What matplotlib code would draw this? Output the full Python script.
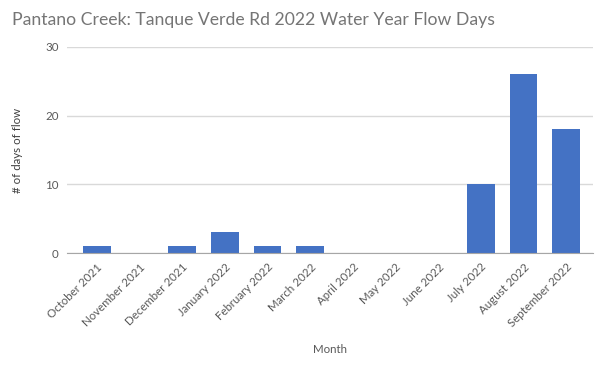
import matplotlib.pyplot as plt

months = ["October 2021", "November 2021", "December 2021", "January 2022",
          "February 2022", "March 2022", "April 2022", "May 2022", "June 2022",
          "July 2022", "August 2022", "September 2022"]
flow_days = [1, 0, 1, 3, 1, 1, 0, 0, 0, 10, 26, 18]

plt.rcParams['font.family'] = ['Lato', 'DejaVu Sans']
grey = "#595959"

fig = plt.figure(figsize=(6, 3.69), dpi=100)
ax = fig.add_axes([67/600, 1-253/369, 526/600, 206/369])

x = range(len(months))
ax.bar(x, flow_days, width=0.65, color="#4472C4", zorder=3)

ax.set_xlim(-0.70, 11.63)
ax.set_ylim(0, 30)
ax.set_yticks([0, 10, 20, 30])
ax.grid(axis="y", color="#d9d9d9", linewidth=1, zorder=0)
for s in ["top", "right", "left"]:
    ax.spines[s].set_visible(False)
ax.spines["bottom"].set_color("#a6a6a6")
ax.spines["bottom"].set_zorder(4)

ax.set_xticks(list(x))
ax.set_xticklabels(months, rotation=45, ha="right", rotation_mode="anchor",
                   fontsize=8.3, color=grey)
ax.tick_params(axis="x", length=0, pad=6)
ax.tick_params(axis="y", length=0, pad=6, labelsize=8.3, labelcolor=grey)

ax.set_xlabel("Month", fontsize=8.3, color=grey, labelpad=11)
ax.set_ylabel("# of days of flow", fontsize=8.3, color="#404040", labelpad=16)

fig.text(12/600, 1-20/369, "Pantano Creek: Tanque Verde Rd 2022 Water Year Flow Days",
         fontsize=12.7, color="#757575", va="center", ha="left")

fig.savefig("out.png", dpi=100)
